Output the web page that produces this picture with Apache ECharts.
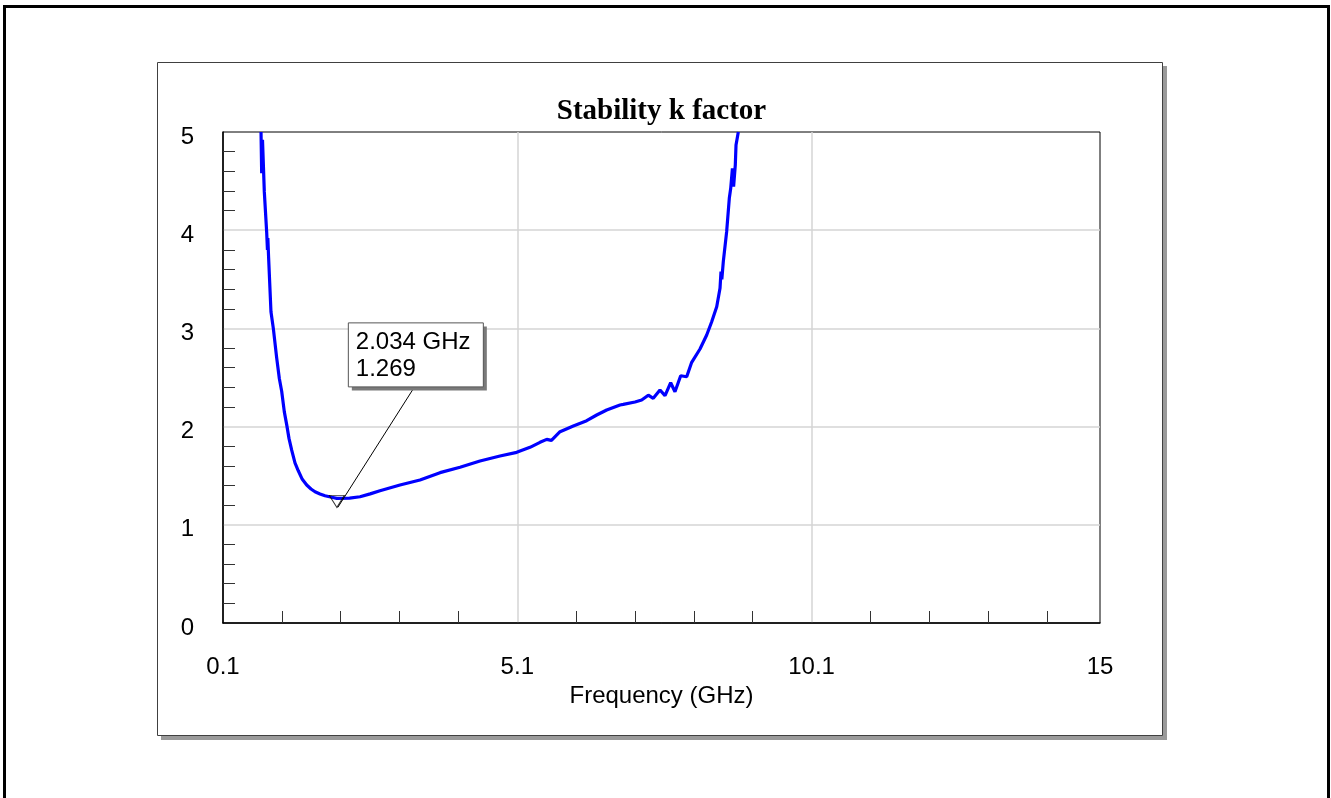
<!DOCTYPE html>
<html><head><meta charset="utf-8">
<script src="https://cdn.jsdelivr.net/npm/echarts@6/dist/echarts.min.js"></script>
<style>html,body{margin:0;padding:0;background:#fff;}#c{width:1331px;height:798px;}</style>
</head><body><div id="c"></div>
<script>
// Frequency (GHz) and stability factor k
const freqGHz = [0.746, 0.757, 0.771, 0.802, 0.842, 0.855, 0.862, 0.875, 0.915, 0.955, 1.012, 1.057, 1.097, 1.142, 1.182, 1.221, 1.267, 1.323, 1.379, 1.447, 1.522, 1.595, 1.663, 1.748, 1.833, 1.947, 2.034, 2.250, 2.428, 2.600, 2.767, 3.107, 3.447, 3.787, 4.127, 4.466, 4.806, 5.090, 5.316, 5.486, 5.600, 5.680, 5.826, 6.052, 6.279, 6.449, 6.619, 6.845, 6.900, 7.100, 7.213, 7.326, 7.410, 7.524, 7.610, 7.706, 7.779, 7.876, 7.978, 8.063, 8.204, 8.318, 8.403, 8.488, 8.544, 8.561, 8.575, 8.600, 8.657, 8.702, 8.726, 8.755, 8.775, 8.804, 8.816, 8.855];
const kFactor = [5.00, 4.58, 4.92, 4.39, 3.98, 3.80, 3.92, 3.72, 3.17, 3.00, 2.70, 2.49, 2.36, 2.15, 2.02, 1.88, 1.76, 1.63, 1.55, 1.463, 1.405, 1.365, 1.337, 1.314, 1.296, 1.280, 1.269, 1.272, 1.286, 1.315, 1.347, 1.405, 1.456, 1.531, 1.586, 1.650, 1.700, 1.738, 1.789, 1.840, 1.870, 1.860, 1.948, 2.006, 2.060, 2.118, 2.169, 2.220, 2.226, 2.250, 2.271, 2.320, 2.288, 2.373, 2.315, 2.447, 2.355, 2.518, 2.508, 2.655, 2.790, 2.933, 3.068, 3.221, 3.408, 3.578, 3.500, 3.680, 3.985, 4.325, 4.427, 4.630, 4.443, 4.664, 4.868, 5.000];
// Marker
const markerFreq = 2.034;
const markerK = 1.269;
// Axis ticks
const xLabelValues = [0.1, 5.1, 10.1, 15];
const xGridValues = [5.1, 10.1];
const xMinorTickValues = [1.1, 2.1, 3.1, 4.1, 6.1, 7.1, 8.1, 9.1, 11.1, 12.1, 13.1, 14.1];

const SANS = '"Liberation Sans", Arial, Helvetica, sans-serif';
const SERIF = '"Liberation Serif", "Times New Roman", serif';
const chart = echarts.init(document.getElementById('c'), null, {renderer: 'canvas'});

const option = {
  animation: false,
  backgroundColor: '#fff',
  grid: {left: 223, top: 132, right: 231, bottom: 175, show: true, borderColor: '#000', borderWidth: 1, backgroundColor: 'rgba(0,0,0,0)'},
  xAxis: [{
    type: 'value', min: 0.1, max: 15, position: 'bottom',
    name: 'Frequency (GHz)', nameLocation: 'middle', nameGap: 60,
    nameTextStyle: {fontFamily: SANS, fontSize: 24, color: '#000'},
    axisLine: {show: true, lineStyle: {color: '#000', width: 1.5}},
    axisTick: {show: false, customValues: xGridValues},
    axisLabel: {customValues: xLabelValues, margin: 32, fontFamily: SANS, fontSize: 24, color: '#000', formatter: v => String(v)},
    splitLine: {show: true, lineStyle: {color: '#d4d4d4', width: 1.5}}
  }, {
    type: 'value', min: 0.1, max: 15, position: 'bottom', gridIndex: 0,
    axisLine: {show: false}, axisLabel: {show: false}, splitLine: {show: false},
    axisTick: {show: true, inside: true, length: 12, customValues: xMinorTickValues, lineStyle: {color: '#333', width: 1}}
  }],
  yAxis: {
    type: 'value', min: 0, max: 5, interval: 1,
    axisLine: {show: true, lineStyle: {color: '#000', width: 1.5}},
    axisTick: {show: false, inside: true},
    minorTick: {show: true, splitNumber: 5, length: 12, lineStyle: {color: '#333', width: 1}},
    axisLabel: {margin: 29, fontFamily: SANS, fontSize: 24, color: '#000', verticalAlign: 'top', lineHeight: 10},
    splitLine: {show: true, showMinLine: false, showMaxLine: false, lineStyle: {color: '#d4d4d4', width: 1.5}}
  },
  series: [{
    type: 'line', xAxisIndex: 0, data: freqGHz.map((f, i) => [f, kFactor[i]]),
    symbol: 'none', showSymbol: false, clip: true,
    lineStyle: {color: '#0000ff', width: 3.2}, z: 3
  }, {
    type: 'scatter', xAxisIndex: 0, data: [[markerFreq, markerK]],
    symbol: 'triangle', symbolRotate: 180, symbolSize: [15, 12], symbolOffset: [0, 3],
    itemStyle: {color: 'rgba(0,0,0,0)', borderColor: '#000', borderWidth: 1}, z: 5
  }]
};
chart.setOption(option);

const p = chart.convertToPixel({xAxisIndex: 0, yAxisIndex: 0}, [markerFreq, markerK]);
const gTop = chart.convertToPixel({xAxisIndex: 0, yAxisIndex: 0}, [0.1, 5]);
const gEnd = chart.convertToPixel({xAxisIndex: 0, yAxisIndex: 0}, [15, 5]);
const cx = (gTop[0] + gEnd[0]) / 2;

chart.setOption({
  graphic: [
    {type: 'rect', z: -10, silent: true, shape: {x: 4.5, y: 6.5, width: 1324, height: 800}, style: {fill: '#fff', stroke: '#000', lineWidth: 3}},
    {type: 'rect', z: -9, silent: true, shape: {x: 161, y: 66, width: 1006, height: 674}, style: {fill: '#9a9a9a'}},
    {type: 'rect', z: -8, silent: true, shape: {x: 157.5, y: 62.5, width: 1005, height: 673}, style: {fill: '#fff', stroke: '#404040', lineWidth: 1}},
    {type: 'text', z: 10, silent: true, x: cx, y: gTop[1] - 35, style: {text: 'Stability k factor', align: 'center', verticalAlign: 'top', fontFamily: SERIF, fontWeight: 'bold', fontSize: 29, fill: '#000'}},
    {type: 'line', z: 50, silent: true, shape: {x1: p[0] + 1, y1: p[1] + 9, x2: p[0] + 78, y2: p[1] - 112}, style: {stroke: '#000', lineWidth: 1}},
    {type: 'rect', z: 51, silent: true, shape: {x: p[0] + 15, y: p[1] - 172, width: 135, height: 64}, style: {fill: '#7a7a7a'}},
    {type: 'rect', z: 52, silent: true, shape: {x: p[0] + 11.5, y: p[1] - 175.5, width: 135, height: 64}, style: {fill: '#fff', stroke: '#555', lineWidth: 1}},
    {type: 'text', z: 53, silent: true, x: p[0] + 19, y: p[1] - 170, style: {text: markerFreq.toFixed(3) + ' GHz\n' + markerK.toFixed(3), fontFamily: SANS, fontSize: 24, lineHeight: 27, fill: '#000', align: 'left', verticalAlign: 'top'}}
  ]
});
</script></body></html>
